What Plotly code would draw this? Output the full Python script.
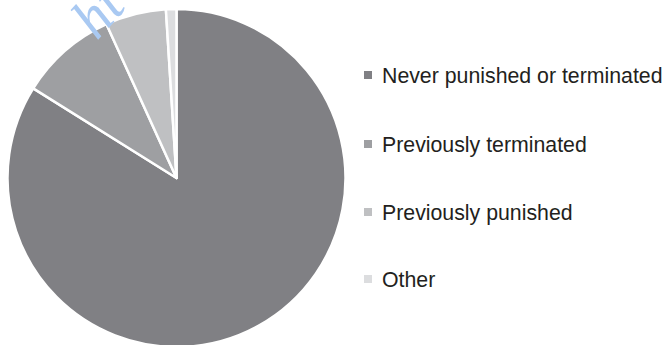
import plotly.graph_objects as go

labels = ["Never punished or terminated", "Previously terminated", "Previously punished", "Other"]
values = [83.9, 9.3, 5.8, 1.0]
colors = ["#808084", "#9e9fa2", "#bfc0c2", "#dcdddf"]

W, H = 665, 348  # page window is 345 tall; the pie's bottom edge runs just past it
cx, cy, r = 176.5, 178, 169

fig = go.Figure()
fig.add_trace(go.Pie(
    labels=labels, values=values, sort=False, direction="clockwise", rotation=0,
    marker=dict(colors=colors, line=dict(color="white", width=2.5)),
    textinfo="none", hoverinfo="label+percent", showlegend=False,
    domain=dict(x=[(cx - r) / W, (cx + r) / W], y=[max(0, 1 - (cy + r) / H), 1 - (cy - r) / H]),
))

leg_y = [75, 144, 212, 279]
shapes = []
annotations = []
for lab, col, yy in zip(labels, colors, leg_y):
    shapes.append(dict(type="rect", xref="paper", yref="paper",
                       x0=364 / W, x1=372 / W, y0=1 - (yy + 4) / H, y1=1 - (yy - 4) / H,
                       fillcolor=col, line=dict(width=0)))
    annotations.append(dict(text=lab, xref="paper", yref="paper", x=380 / W, y=1 - (yy + 1) / H,
                            xanchor="left", yanchor="middle", showarrow=False,
                            font=dict(family="Liberation Sans, Arial", size=21.3, color="#231f20")))

annotations.append(dict(text="<i>ht</i>", xref="paper", yref="paper", x=98 / W, y=1 - 10 / H,
                        xanchor="center", yanchor="middle", showarrow=False, textangle=-48,
                        font=dict(family="Liberation Serif, Times New Roman", size=58, color="#a9c9f2")))

fig.update_layout(width=W, height=H, margin=dict(l=0, r=0, t=0, b=0),
                  paper_bgcolor="white", plot_bgcolor="white",
                  shapes=shapes, annotations=annotations)
fig.write_html("out.html", config={"displayModeBar": False},
               post_script="document.body.style.margin='0';document.body.style.overflow='hidden';")
